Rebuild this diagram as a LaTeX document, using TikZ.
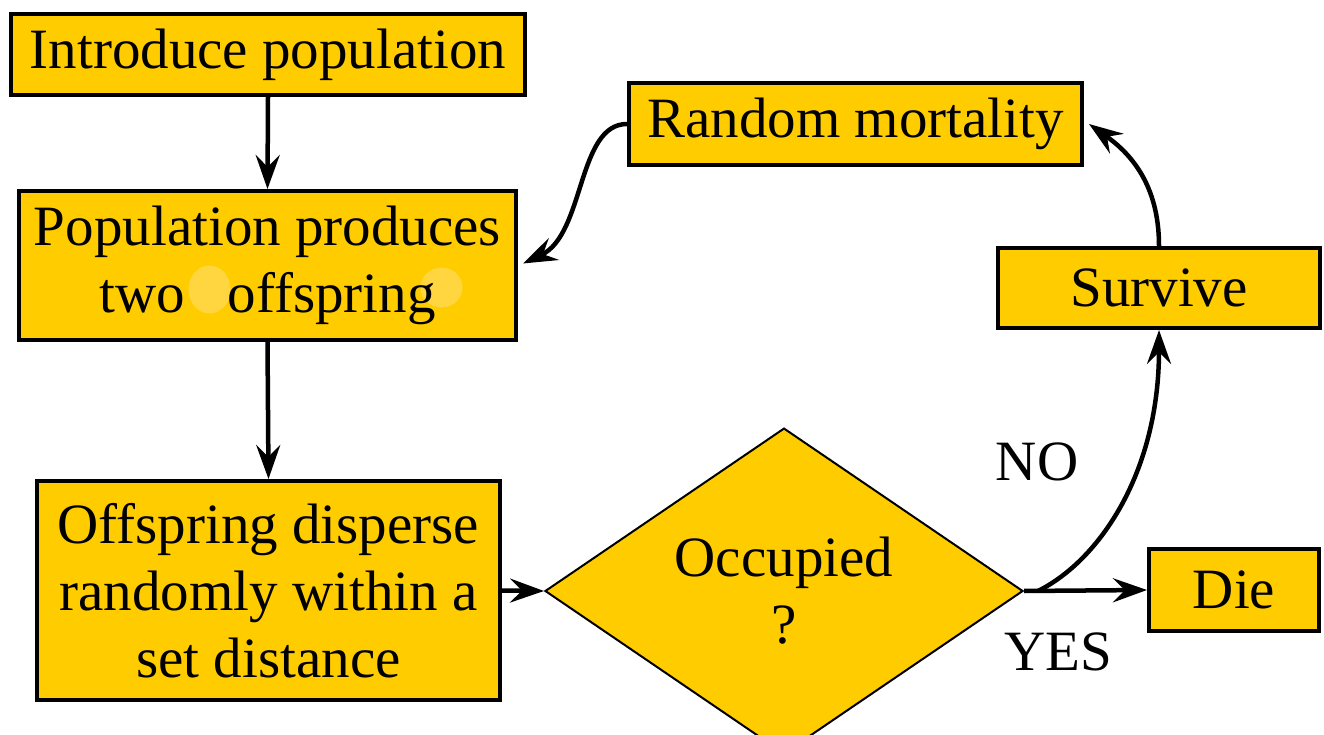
\documentclass[tikz,border=0pt]{standalone}
\usepackage{fontspec}
\setmainfont{Liberation Serif}
\usetikzlibrary{shapes.geometric,arrows.meta,calc}
\definecolor{boxyellow}{HTML}{FFCC00}
\definecolor{spotyellow}{HTML}{FFD640}
\begin{document}
\begin{tikzpicture}[x=1pt,y=1pt,
  txt/.style={font=\rmfamily\fontsize{57}{67}\selectfont},
  stepbox/.style={txt, rectangle, draw=black, line width=4pt, fill=boxyellow,
    inner sep=0pt, align=center},
  decision/.style={txt, diamond, draw=black, line width=2pt, fill=boxyellow,
    inner sep=0pt, align=center},
  flow/.style={line width=4.5pt, -{Stealth[length=34pt,width=24pt,inset=12pt]}},
  lbl/.style={txt, inner sep=0pt}]
\useasboundingbox[fill=white] (0,0) rectangle (1324,734);

\node[stepbox, minimum width=514pt, minimum height=81pt] (intro) at (268,679.5) {Introduce population};
\node[stepbox, minimum width=497pt, minimum height=149pt,
  path picture={
    \fill[spotyellow] ($(path picture bounding box.center)+(-58,-24)$) ellipse [x radius=21pt, y radius=24pt];
    \fill[spotyellow] ($(path picture bounding box.center)+(174,-22)$) ellipse [x radius=21pt, y radius=20pt];
  }] (prod) at (267.5,468.5) {Population produces\\two \ \ offspring};
\node[stepbox, minimum width=463pt, minimum height=219pt] (disp) at (268.5,143.5) {Offspring disperse\\randomly within a\\set distance};
\node[stepbox, minimum width=453pt, minimum height=82pt] (rm) at (855.5,610) {Random mortality};
\node[stepbox, minimum width=322pt, minimum height=80pt] (surv) at (1159,446) {Survive};
\node[stepbox, minimum width=170pt, minimum height=82pt] (die) at (1234,144) {Die};
\node[decision, minimum width=478pt, minimum height=290pt] (occ) at (784,143) {Occupied\\?};

\node[lbl] (no) at (1037,272) {NO};
\node[lbl] (yes) at (1058,82) {YES};

\draw[flow] (intro.south) -- (prod.north);
\draw[flow] (prod.south) -- (disp.north);
\draw[flow] (disp.east) -- (occ.west);
\draw[flow] (occ.east) -- (die.west);
\draw[flow] ([xshift=14pt]occ.east) .. controls +(62,31) and +(0,-142) .. (surv.south);
\draw[flow] (surv.north) .. controls +(0,62) and +(41,-29) .. ([xshift=5pt]rm.east);
\draw[flow] (rm.west) .. controls +(-50,0) and +(62,29) .. ([xshift=5pt,yshift=2pt]prod.east);
\end{tikzpicture}
\end{document}
